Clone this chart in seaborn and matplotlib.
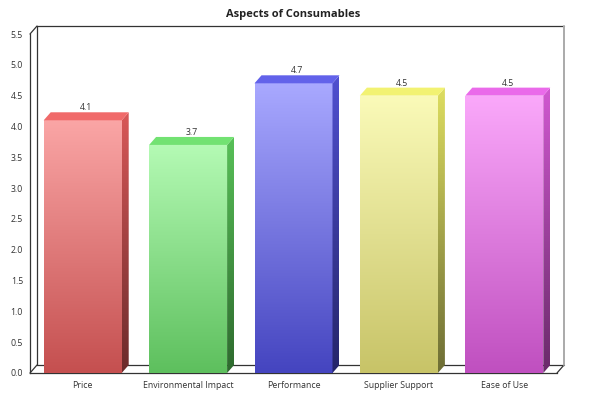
import numpy as np
import pandas as pd
import matplotlib
matplotlib.use("Agg")
import matplotlib.pyplot as plt
import seaborn as sns
from matplotlib.patches import Polygon
from matplotlib.lines import Line2D
from matplotlib.colors import to_rgb

categories = ["Price", "Environmental Impact", "Performance", "Supplier Support", "Ease of Use"]
values = [4.1, 3.7, 4.7, 4.5, 4.5]
value_labels = ["4.1", "3.7", "4.7", "4.5", "4.5"]
y_ticks = [0.0, 0.5, 1.0, 1.5, 2.0, 2.5, 3.0, 3.5, 4.0, 4.5, 5.0, 5.5]
title = "Aspects of Consumables"

# styles: (front top, front bottom, top face, side top, side bottom)
styles = [
    ("#FAA5A5", "#C55050", "#F06A6A", "#D85858", "#6B2B2B"),
    ("#B4FAB4", "#5EC05E", "#72E272", "#58C058", "#2E6A2E"),
    ("#A8A8FF", "#4545C0", "#6262EA", "#5050D0", "#25256A"),
    ("#FAFAB8", "#C8C468", "#F2F272", "#DDDD60", "#6E6E35"),
    ("#FAA8FA", "#C050C0", "#EA6AEA", "#D058D0", "#6A2A6A"),
]

sns.set_theme(style="white")
plt.rcParams["font.family"] = ["Open Sans", "DejaVu Sans"]

fig = plt.figure(figsize=(6, 4), dpi=100)
ax = fig.add_axes([30 / 600, 27 / 400, 527 / 600, 339 / 400])

df = pd.DataFrame({"cat": categories, "val": values})
sns.barplot(data=df, x="cat", y="val", ax=ax, width=0.74, color="white",
            edgecolor="none", saturation=1)

ax.set_xlim(-0.5, 4.5)
ax.set_ylim(0, 5.5)
ax.set_yticks(y_ticks)
ax.set_yticklabels([f"{t:.1f}" for t in y_ticks])
ax.set_xlabel("")
ax.set_ylabel("")
ax.tick_params(axis="both", length=0, labelsize=6.3, colors="#333333")
ax.tick_params(axis="y", pad=5)
ax.tick_params(axis="x", pad=6)
for s in ["top", "right"]:
    ax.spines[s].set_visible(False)
for s in ["left", "bottom"]:
    ax.spines[s].set_color("#333333")
    ax.spines[s].set_linewidth(0.9)
ax.set_title(title, fontsize=8, fontweight="bold", color="#222222", pad=12)

fig.canvas.draw()
# depth in data units
inv = ax.transData.inverted()
p0 = ax.transData.transform((0, 0))
pd_ = inv.transform((p0[0] + 7, p0[1] + 8))
dx, dy = pd_[0], pd_[1]


def vgrad(c_top, c_bot, n=64):
    t = np.linspace(0, 1, n)[:, None]
    a = np.array(to_rgb(c_top))
    b = np.array(to_rgb(c_bot))
    g = a * (1 - t) + b * t
    return g[:, None, :]


for patch, st, lab in zip(ax.patches, styles, value_labels):
    x0 = patch.get_x()
    w = patch.get_width()
    h = patch.get_height()
    x1 = x0 + w
    patch.set_facecolor("none")
    # front gradient
    im = ax.imshow(vgrad(st[0], st[1]), extent=(x0, x1, 0, h), origin="upper",
                   aspect="auto", zorder=3, interpolation="bilinear")
    im.set_clip_path(patch)
    # side face
    side = Polygon([(x1, 0), (x1, h), (x1 + dx, h + dy), (x1 + dx, dy)],
                   closed=True, facecolor="none", edgecolor="none", zorder=3)
    ax.add_patch(side)
    im2 = ax.imshow(vgrad(st[3], st[4]), extent=(x1, x1 + dx, 0, h + dy),
                    origin="upper", aspect="auto", zorder=3, interpolation="bilinear")
    im2.set_clip_path(side)
    # top face
    top = Polygon([(x0, h), (x1, h), (x1 + dx, h + dy), (x0 + dx, h + dy)],
                  closed=True, facecolor=st[2], edgecolor="none", zorder=3)
    ax.add_patch(top)
    ax.text(x0 + w / 2 + dx / 2, h + dy, lab, ha="center", va="bottom",
            fontsize=6.3, color="#333333", zorder=4)

ax.set_xlim(-0.5, 4.5)
ax.set_ylim(0, 5.5)

# 3D frame lines (back wall and floor)
xl, xr, yb, yt = -0.5, 4.5, 0.0, 5.5
frame = [
    ([xl, xl + dx], [yt, yt + dy], "#333333"),
    ([xl + dx, xl + dx], [yb + dy, yt + dy], "#333333"),
    ([xl + dx, xr + dx], [yt + dy, yt + dy], "#333333"),
    ([xl, xl + dx], [yb, yb + dy], "#333333"),
    ([xl + dx, xr + dx], [yb + dy, yb + dy], "#333333"),
    ([xr, xr + dx], [yb, yb + dy], "#333333"),
    ([xr + dx, xr + dx], [yb + dy, yt + dy], "#AAAAAA"),
]
for xs, ys, c in frame:
    ln = Line2D(xs, ys, color=c, linewidth=0.9 if c != "#AAAAAA" else 1.4,
                zorder=1 if ys[0] == ys[1] and ys[0] == yb + dy else 2)
    ln.set_clip_on(False)
    ax.add_line(ln)

fig.savefig("out.png", dpi=100)
